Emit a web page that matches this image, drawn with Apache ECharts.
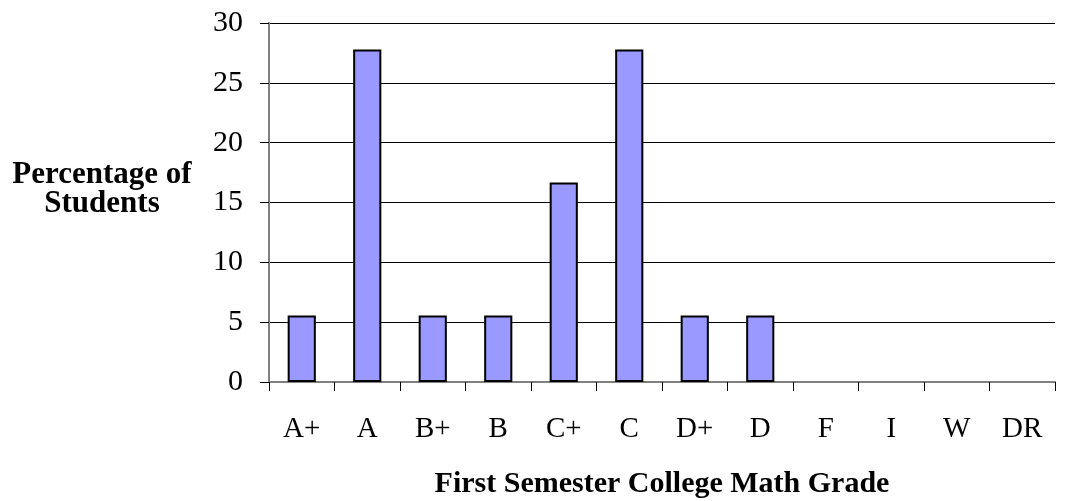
<!DOCTYPE html>
<html><head><meta charset="utf-8">
<script src="https://cdn.jsdelivr.net/npm/echarts@6/dist/echarts.min.js"></script>
<style>html,body{margin:0;padding:0;background:#fff}#c{width:1067px;height:501px}</style>
</head><body><div id="c"></div>
<script>
const categories = ['A+','A','B+','B','C+','C','D+','D','F','I','W','DR'];
const percentages = [5.56,27.78,5.56,5.56,16.67,27.78,5.56,5.56,0,0,0,0];
const yTicks = [0,5,10,15,20,25,30];
const yTitleLines = ['Percentage of','Students'];
const xTitle = 'First Semester College Math Grade';
const chart = echarts.init(document.getElementById('c'));
const serif = '"Liberation Serif","Times New Roman",serif';
chart.setOption({
  animation:false,
  grid:{left:269,top:23,right:12,bottom:119,containLabel:false,outerBoundsMode:'none'},
  xAxis:{type:'category',data:categories,
    axisLine:{lineStyle:{color:'#808080',width:2}},
    axisTick:{show:true,alignWithLabel:false,length:9,lineStyle:{color:'#000',width:1}},
    axisLabel:{color:'#000',fontFamily:serif,fontSize:29,margin:33},
    name:xTitle,nameLocation:'middle',nameGap:87,
    nameTextStyle:{color:'#000',fontFamily:serif,fontSize:30,fontWeight:'bold'}
  },
  yAxis:{type:'value',min:yTicks[0],max:yTicks[yTicks.length-1],interval:yTicks[1]-yTicks[0],
    axisLine:{show:true,lineStyle:{color:'#808080',width:2}},
    axisTick:{show:true,length:9,lineStyle:{color:'#000',width:1}},
    splitLine:{show:true,lineStyle:{color:'#000',width:1}},
    axisLabel:{color:'#000',fontFamily:serif,fontSize:30,margin:26}
  },
  graphic:yTitleLines.map((t,i)=>({type:'text',x:102,y:175+i*29,style:{text:t,fill:'#000',
    font:'bold 31px '+serif,align:'center',verticalAlign:'middle'}})),
  series:[{type:'bar',barWidth:'43%',
    data:percentages.map(v=>({value:v,itemStyle:{borderWidth:v===0?0:2}})),
    itemStyle:{color:'#9999FF',borderColor:'#000',borderWidth:2}}]
});
</script></body></html>
